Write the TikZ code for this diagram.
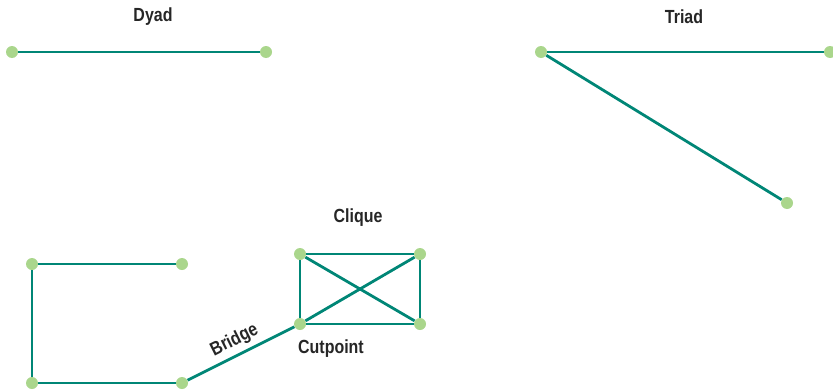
\documentclass[tikz,border=0pt]{standalone}
\usepackage{fontspec}
\setmainfont[FakeStretch=0.84]{Liberation Sans}
\usetikzlibrary{positioning,backgrounds}

\definecolor{tieteal}{RGB}{0,134,118}
\definecolor{dotgreen}{RGB}{170,214,140}

\begin{document}
\begin{tikzpicture}[x=1pt,y=-1pt,
        dot/.style={circle,fill=dotgreen,inner sep=0pt,minimum size=12pt},
        tie/.style={line width=2.8pt,color=tieteal},
        lbl/.style={font=\fontsize{19}{22}\bfseries\selectfont,text=black!85}]
                \useasboundingbox (0,0) rectangle (833,391);

                % dyad
                \node[dot] (dA) at (12,52) {};
                \node[dot] (dB) at (266,52) {};
                \node[lbl] (dyad) at (153,17) {Dyad};

                % triad
                \node[dot] (tA) at (541,52) {};
                \node[dot] (tB) at (830,52) {};
                \node[dot] (tC) at (787,203) {};
                \node[lbl] (triad) at (684,17) {Triad};

                % open square
                \node[dot] (sA) at (32,264) {};
                \node[dot] (sB) at (182,264) {};
                \node[dot] (sC) at (32,383) {};
                \node[dot] (sD) at (182,383) {};

                % clique
                \node[dot] (cA) at (300,254) {};
                \node[dot] (cB) at (420,254) {};
                \node[dot] (cC) at (300,324) {};
                \node[dot] (cD) at (420,324) {};
                \node[lbl] (clique) at (358,218) {Clique};
                \node[lbl] (cutpoint) at (331,349) {Cutpoint};

                % ties go under the dots
                \begin{scope}[on background layer]
                \draw[tie] (dA) -- (dB);
                \draw[tie] (tA) -- (tB);
                \draw[tie] (tA) -- (tC);
                \draw[tie] (sB) -- (sA) -- (sC) -- (sD);
                \draw[tie] (cA) -- (cB) -- (cD) -- (cC) -- (cA);
                \draw[tie] (cA) -- (cD);
                \draw[tie] (cB) -- (cC);
                \draw[tie] (sD) -- node[lbl,sloped,above=1pt] (bridge) {Bridge} (cC);
                \end{scope}

            \end{tikzpicture}
\end{document}
